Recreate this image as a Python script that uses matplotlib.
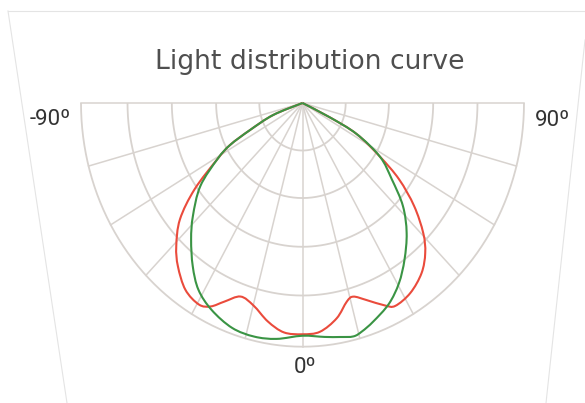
import numpy as np
import matplotlib
matplotlib.use("Agg")
import matplotlib.pyplot as plt
from matplotlib.lines import Line2D
from matplotlib.path import Path
from matplotlib.patches import PathPatch

# Angles in degrees (0 = straight down, negative = left), intensity relative to outer ring
red_angles = [-74, -69.6, -64.9, -62.2, -59.1, -54, -49.2, -44.1, -40, -34.6, -29.5, -26.4,
              -23.4, -19.4, -14.9, -9.9, -5.1, 0, 4.8, 9.9, 13.8, 16.1, 19.7, 24.1, 26.7,
              32, 37.6, 42, 45.6, 50, 54.3, 57.8, 62.5, 64.5, 67]
red_values = [0, 0.141, 0.262, 0.370, 0.447, 0.602, 0.731, 0.819, 0.875, 0.931, 0.950, 0.932,
              0.888, 0.842, 0.860, 0.910, 0.945, 0.949, 0.942, 0.897, 0.839, 0.827, 0.859, 0.910, 0.932,
              0.919, 0.881, 0.828, 0.763, 0.658, 0.537, 0.413, 0.275, 0.137, 0]

green_angles = [-74, -69.6, -64.9, -62.2, -59.1, -53.5, -46.8, -41.9, -36.5, -31.5, -25.8,
                -19, -12.8, -6.9, 0, 5.9, 10, 13.5, 16, 19.6, 25.3, 30.5, 35.6, 41.4, 47,
                52.2, 57.8, 62.5, 64.5, 67]
green_values = [0, 0.141, 0.262, 0.370, 0.447, 0.574, 0.679, 0.753, 0.833, 0.899, 0.943,
                0.976, 0.983, 0.975, 0.955, 0.965, 0.975, 0.985, 0.975, 0.952, 0.912, 0.858, 0.791, 0.711, 0.620,
                0.510, 0.413, 0.275, 0.137, 0]

ring_levels = [0.195, 0.39, 0.59, 0.79, 1.0]
spoke_angles = np.arange(-90, 91, 15)
angle_labels = ["-90º", "90º", "0º"]
title = "Light distribution curve"

GRID = "#d8d3cf"
RED = "#ea4b3c"
GREEN = "#3a9444"


def to_xy(angles, r):
    a = np.radians(np.asarray(angles, dtype=float))
    r = np.asarray(r, dtype=float)
    return r * np.sin(a), -r * np.cos(a)


def smooth_path(x, y):
    # Catmull-Rom through the read points, drawn as cubic Bezier segments
    p = np.column_stack([x, y])
    ext = np.vstack([p[0], p, p[-1]])
    verts = [p[0]]
    codes = [Path.MOVETO]
    for i in range(1, len(ext) - 2):
        c1 = ext[i] + (ext[i + 1] - ext[i - 1]) / 6
        c2 = ext[i + 1] - (ext[i + 2] - ext[i]) / 6
        verts += [c1, c2, ext[i + 1]]
        codes += [Path.CURVE4] * 3
    return Path(verts, codes)


fig = plt.figure(figsize=(5.85, 4.03), dpi=100)
ax = fig.add_axes([0, 0, 1, 1])
ax.set_axis_off()

# pixel layout of the reference: centre (302.5, 103), radii 221.5 x 243.7
ax.set_xlim(-302.5 / 221.5, (585 - 302.5) / 221.5)
ax.set_ylim(-(403 - 103) / 243.7, 103 / 243.7)

# grid rings (half circles)
t = np.linspace(-90, 90, 181)
for lev in ring_levels:
    x, y = to_xy(t, np.full_like(t, lev))
    ax.plot(x, y, color=GRID, lw=1.3, zorder=1, solid_capstyle="butt")

# spokes
for a in spoke_angles:
    x, y = to_xy([a, a], [0, 1.0])
    ax.plot(x, y, color=GRID, lw=1.1, zorder=1)

# curves
for angs, vals, col, z in [(red_angles, red_values, RED, 3),
                           (green_angles, green_values, GREEN, 4)]:
    x, y = to_xy(angs, vals)
    ax.add_patch(PathPatch(smooth_path(x, y), fill=False, edgecolor=col, lw=1.5,
                           zorder=z, joinstyle="round"))

fig.text(309.5 / 585, 1 - 69 / 403, title, ha="center", va="baseline",
         fontsize=19.2, color="#4f4f4f", family="DejaVu Sans")

lab_kw = dict(ha="center", va="baseline", fontsize=16, color="#333333", family="Roboto")
fig.text(50 / 585, 1 - 125 / 403, angle_labels[0], **lab_kw)
fig.text(553 / 585, 1 - 126 / 403, angle_labels[1], **lab_kw)
fig.text(305 / 585, 1 - 373 / 403, angle_labels[2], **lab_kw)

# faint frame around the picture
frame = dict(color="#e4e4e4", lw=0.8, transform=fig.transFigure)
fig.add_artist(Line2D([8 / 585, 1], [1 - 11 / 403, 1 - 11 / 403], **frame))
fig.add_artist(Line2D([8 / 585, 67 / 585], [1 - 11 / 403, 0], **frame))
fig.add_artist(Line2D([1, 546 / 585], [1 - 40 / 403, 0], **frame))

fig.savefig("out.png", dpi=100)
